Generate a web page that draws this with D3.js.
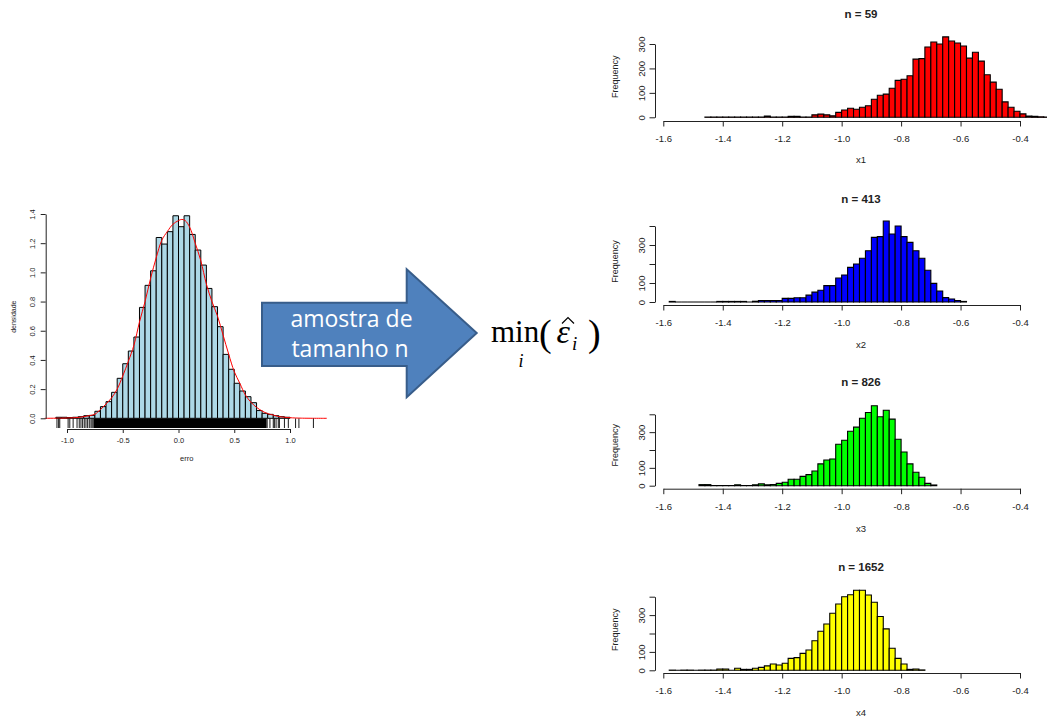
<!DOCTYPE html>
<html>
<head>
<meta charset="utf-8">
<script src="https://cdn.jsdelivr.net/npm/d3@7"></script>
<style>
  body { margin: 0; background: #fff; }
  svg { display: block; }
</style>
</head>
<body>
<svg id="chart" width="1047" height="718"></svg>
<script>
// ---- data: left histogram (densidade of erro), bins of 0.05 from -1.10
const erroStart = -1.10;
const erroBin = 0.05;
const erroDens = [0.007, 0.007, 0.005, 0.007, 0.011, 0.018, 0.02, 0.048, 0.08, 0.114,
  0.178, 0.274, 0.374, 0.461, 0.557, 0.76, 0.911, 1.011, 1.239, 1.194, 1.279,
  1.388, 1.313, 1.388, 1.26, 1.153, 1.05, 0.89, 0.765, 0.628, 0.438, 0.336,
  0.24, 0.187, 0.148, 0.107, 0.053, 0.034, 0.027, 0.018, 0.011, 0.007];

// red density curve
const densX = [-1.2, -1.0, -0.9, -0.8, -0.75, -0.7, -0.65, -0.6, -0.55, -0.5, -0.45, -0.4,
  -0.35, -0.3, -0.25, -0.2, -0.15, -0.1, -0.05, 0, 0.03, 0.06, 0.1, 0.15, 0.2, 0.25,
  0.3, 0.35, 0.4, 0.45, 0.5, 0.55, 0.6, 0.65, 0.7, 0.75, 0.8, 0.85, 0.9, 1.0, 1.1, 1.33];
const densY = [0, 0.002, 0.006, 0.018, 0.028, 0.06, 0.098, 0.14, 0.2, 0.29, 0.39, 0.5,
  0.66, 0.8, 0.96, 1.1, 1.22, 1.28, 1.33, 1.355, 1.363, 1.355, 1.31, 1.2, 1.08, 0.92,
  0.8, 0.7, 0.57, 0.44, 0.32, 0.24, 0.16, 0.11, 0.075, 0.05, 0.032, 0.022, 0.012, 0.004, 0.001, 0];

// rug: isolated ticks plus the solid band where they merge
const rugTicks = [-1.09, -1.075, -1.065, -0.99, -0.975, -0.945, -0.91, -0.89, -0.875,
  -0.86, -0.845, -0.83, -0.815, -0.8, -0.785, -0.775, -0.765,
  0.795, 0.82, 0.85, 0.86, 0.875, 0.895, 0.905, 0.95, 0.985, 1.05, 1.08, 1.21];
const rugDense = [-0.76, 0.79];

const erroXTicks = [-1, -0.5, 0, 0.5, 1];
const erroYTicks = [0, 0.2, 0.4, 0.6, 0.8, 1.0, 1.2, 1.4];

// ---- data: minimum histograms (Frequency), bins of 0.02
const histBin = 0.02;
const sampleSizes = [59, 413, 826, 1652];
const varNames = ['x1', 'x2', 'x3', 'x4'];
const histStarts = [-1.46, -1.58, -1.48, -1.58];
const x1Counts = [1, 1, 1, 1, 1, 1, 1, 1, 1, 1, 5, 1, 1, 1, 4, 4, 1, 1, 10, 13, 10, 6, 20,
  30, 37, 33, 41, 47, 74, 90, 95, 119, 151, 156, 170, 238, 240, 288, 308, 300, 329,
  312, 304, 292, 242, 266, 230, 174, 144, 115, 63, 41, 25, 14, 5, 4, 2, 1];
const x2Counts = [3, 0, 0, 0, 0, 0, 0, 0, 3, 3, 3, 3, 3, 0, 4, 8, 8, 8, 8, 19, 19, 22, 22,
  36, 52, 62, 86, 86, 126, 142, 182, 200, 230, 270, 340, 344, 426, 358, 400, 344, 314,
  270, 230, 167, 98, 58, 23, 16, 8, 3];
const x3Counts = [6, 6, 1, 1, 1, 1, 5, 1, 1, 5, 10, 5, 7, 13, 19, 36, 36, 52, 62, 82, 122,
  144, 150, 232, 255, 305, 328, 378, 410, 448, 386, 423, 373, 260, 189, 122, 75, 47, 13, 4];
const x4Counts = [1, 0, 1, 1, 0, 1, 1, 1, 7, 7, 0, 11, 5, 5, 11, 16, 24, 34, 29, 38, 65, 69,
  92, 110, 161, 212, 252, 310, 360, 400, 411, 435, 435, 409, 370, 292, 225, 120, 65,
  34, 5, 7, 2];
const histCounts = [x1Counts, x2Counts, x3Counts, x4Counts];
const histColors = ['#ff0000', '#0000ff', '#00ff00', '#ffff00'];
const histXTicks = [-1.6, -1.4, -1.2, -1.0, -0.8, -0.6, -0.4];
const histYTicks = [[0, 100, 200, 300], [0, 100, 200, 300, 400], [0, 100, 200, 300, 400], [0, 100, 200, 300, 400]];
const histYLabels = [[0, 100, 200, 300], [0, 100, 300], [0, 100, 300], [0, 100, 300]];

// ---- layout
const font = '"Liberation Sans", Arial, sans-serif';
const ink = '#222';
const svg = d3.select('#chart');
svg.append('rect').attr('width', 1047).attr('height', 718).attr('fill', '#fff');

function barPath(x0, x1, y0, y1) {
  return `M${x0},${y0}V${y1}H${x1}V${y0}Z`;
}

function styleAxis(g, size) {
  g.attr('font-family', font).attr('font-size', size).attr('color', ink);
  g.selectAll('text').attr('fill', ink);
}

function rotateYLabels(g, off) {
  g.selectAll('.tick text')
    .attr('x', 0).attr('dy', 0)
    .attr('text-anchor', 'middle')
    .attr('transform', `translate(${-off},0) rotate(-90)`);
}

// ---- left histogram
const xL = d3.scaleLinear().domain([-1, 1]).range([67, 290]);
const yL = d3.scaleLinear().domain([0, 1.4]).range([418.3, 214]);
const gL = svg.append('g');

gL.selectAll('path.bar')
  .data(erroDens)
  .join('path')
  .attr('class', 'bar')
  .attr('d', (d, i) => barPath(xL(erroStart + i * erroBin), xL(erroStart + (i + 1) * erroBin), yL(0), yL(d)))
  .attr('fill', '#add8e6')
  .attr('stroke', '#000')
  .attr('stroke-width', 1);

const densLine = d3.line()
  .x((d, i) => xL(d))
  .y((d, i) => yL(densY[i]))
  .curve(d3.curveCatmullRom);
gL.append('path')
  .attr('d', densLine(densX))
  .attr('fill', 'none')
  .attr('stroke', '#ff0000')
  .attr('stroke-width', 1);

// rug
gL.append('rect')
  .attr('x', xL(rugDense[0]))
  .attr('width', xL(rugDense[1]) - xL(rugDense[0]))
  .attr('y', 418.5)
  .attr('height', 9.5)
  .attr('fill', '#000');
gL.selectAll('line.rug')
  .data(rugTicks)
  .join('line')
  .attr('class', 'rug')
  .attr('x1', d => xL(d)).attr('x2', d => xL(d))
  .attr('y1', 418.5).attr('y2', 428)
  .attr('stroke', '#000')
  .attr('stroke-width', 0.9);

const axLX = gL.append('g')
  .attr('transform', 'translate(0,429)')
  .call(d3.axisBottom(xL).tickValues(erroXTicks).tickSize(4).tickPadding(4.5)
    .tickSizeOuter(0).tickFormat(d => d.toFixed(1)));
styleAxis(axLX, 7.5);

const axLY = gL.append('g')
  .attr('transform', 'translate(45.7,0)')
  .call(d3.axisLeft(yL).tickValues(erroYTicks).tickSize(5).tickSizeOuter(0)
    .tickFormat(d => d.toFixed(1)));
styleAxis(axLY, 7.5);
rotateYLabels(axLY, 11);

gL.append('text')
  .attr('transform', 'translate(15.5,316.7) rotate(-90)')
  .attr('text-anchor', 'middle')
  .attr('font-family', font).attr('font-size', 7).attr('fill', ink)
  .text('densidade');
gL.append('text')
  .attr('x', 186.7).attr('y', 460.5)
  .attr('text-anchor', 'middle')
  .attr('font-family', font).attr('font-size', 7.5).attr('fill', ink)
  .text('erro');

// ---- arrow with text
const arrowPts = [[262, 302.7], [406.7, 302.7], [406.7, 269.3], [476.7, 333], [406.7, 397.3], [406.7, 366], [262, 366]];
svg.append('path')
  .attr('d', d3.line()(arrowPts) + 'Z')
  .attr('fill', '#4f81bd')
  .attr('stroke', '#385d8a')
  .attr('stroke-width', 2);
const arrowFont = '"Open Sans", Lato, sans-serif';
svg.append('text')
  .attr('x', 351.5).attr('y', 327)
  .attr('text-anchor', 'middle')
  .attr('font-family', arrowFont).attr('font-size', 23)
  .attr('fill', '#fff')
  .text('amostra de');
svg.append('text')
  .attr('x', 350).attr('y', 357)
  .attr('text-anchor', 'middle')
  .attr('font-family', arrowFont).attr('font-size', 23)
  .attr('fill', '#fff')
  .text('tamanho n');

// ---- formula min_i( eps-hat_i )
const serif = '"Liberation Serif", "Times New Roman", serif';
const fm = svg.append('g').attr('font-family', serif).attr('fill', '#000');
fm.append('text').attr('x', 491).attr('y', 341.7).attr('font-size', 31).text('min');
fm.append('text').attr('x', 518.5).attr('y', 367).attr('font-size', 18).attr('font-style', 'italic').text('i');
fm.append('text').attr('x', 539).attr('y', 346).attr('font-size', 38).text('(');
fm.append('text').attr('x', 556.5).attr('y', 343)
  .attr('font-size', 34).attr('font-style', 'italic')
  .text('ε')
  .append('tspan').attr('font-size', 19).attr('dx', 2).attr('dy', 7).text('i');
// circumflex accent over epsilon
svg.append('path')
  .attr('d', 'M562,323.5L568,317.5L574,323.5')
  .attr('fill', 'none')
  .attr('stroke', '#000')
  .attr('stroke-width', 1.2);
fm.append('text').attr('x', 588).attr('y', 346).attr('font-size', 38).text(')');

// ---- right histograms
const xR = d3.scaleLinear().domain([-1.6, -0.4]).range([663.3, 1020]);
const panels = [
  { y0: 117.3, yTop: 44, axisY: 121, titleY: 17.5, xlabY: 163 },
  { y0: 302, yTop: 226, axisY: 305, titleY: 203, xlabY: 348 },
  { y0: 485.7, yTop: 414.3, axisY: 488.7, titleY: 385.5, xlabY: 532 },
  { y0: 670.3, yTop: 596.7, axisY: 673, titleY: 571, xlabY: 716 }
];

panels.forEach((p, k) => {
  const yTicks = histYTicks[k];
  const yMax = yTicks[yTicks.length - 1];
  const y = d3.scaleLinear().domain([0, yMax]).range([p.y0, p.yTop]);
  const start = histStarts[k];
  const g = svg.append('g');

  g.selectAll('path.bar')
    .data(histCounts[k])
    .join('path')
    .attr('class', 'bar')
    .attr('d', (d, i) => barPath(xR(start + i * histBin), xR(start + (i + 1) * histBin), y(0), y(d)))
    .attr('fill', histColors[k])
    .attr('stroke', '#000')
    .attr('stroke-width', 1.1);

  const ax = g.append('g')
    .attr('transform', `translate(0,${p.axisY})`)
    .call(d3.axisBottom(xR).tickValues(histXTicks).tickSize(5.5).tickPadding(9)
      .tickSizeOuter(0).tickFormat(d => d.toFixed(1)));
  styleAxis(ax, 9.5);

  const labels = histYLabels[k];
  const ay = g.append('g')
    .attr('transform', 'translate(655,0)')
    .call(d3.axisLeft(y).tickValues(yTicks).tickSize(5.5).tickSizeOuter(0)
      .tickFormat(d => labels.includes(d) ? String(d) : ''));
  styleAxis(ay, 9.5);
  rotateYLabels(ay, 10.2);

  g.append('text')
    .attr('x', 861).attr('y', p.titleY)
    .attr('text-anchor', 'middle')
    .attr('font-family', font).attr('font-size', 11.5).attr('font-weight', 'bold').attr('fill', ink)
    .text(`n = ${sampleSizes[k]}`);
  g.append('text')
    .attr('x', 861).attr('y', p.xlabY)
    .attr('text-anchor', 'middle')
    .attr('font-family', font).attr('font-size', 9.5).attr('fill', ink)
    .text(varNames[k]);
  g.append('text')
    .attr('transform', `translate(618,${p.y0 - 40.5}) rotate(-90)`)
    .attr('text-anchor', 'middle')
    .attr('font-family', font).attr('font-size', 9).attr('fill', ink)
    .text('Frequency');
});
</script>
</body>
</html>
